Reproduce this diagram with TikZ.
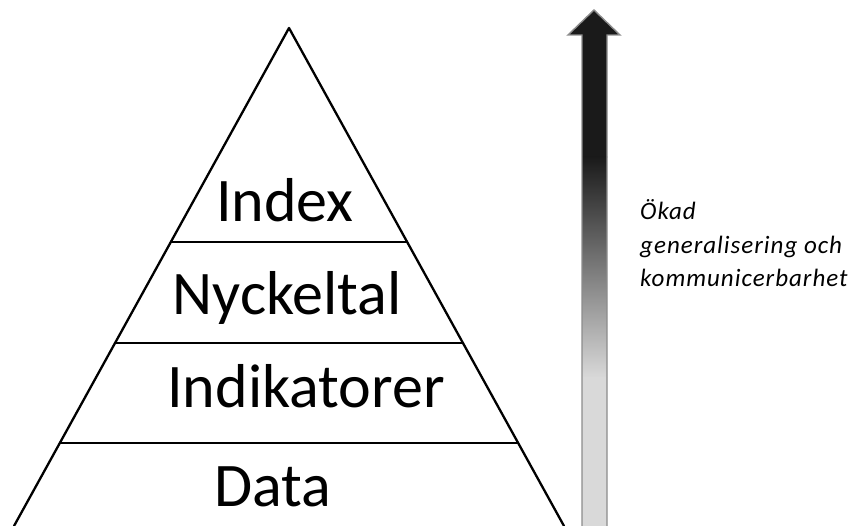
\documentclass[tikz,border=0pt]{standalone}
\usepackage{fontspec}
\setmainfont{Carlito}
\newfontfamily\sidefont[LetterSpace=4]{Carlito}
\begin{document}
\begin{tikzpicture}[x=1pt,y=-1pt,
  edge/.style={line width=2.3pt,line cap=round,line join=round},
  level/.style={anchor=base,font=\fontsize{62}{62}\selectfont,inner sep=0pt},
  side/.style={anchor=base west,align=left,inner sep=0pt,font=\sidefont\itshape\fontsize{25}{33.5}\selectfont}]
\useasboundingbox (0,0) rectangle (863,526);
\definecolor{arrdark}{HTML}{1A1A1A}
\definecolor{arrlight}{HTML}{D9D9D9}
\definecolor{arredge}{HTML}{8C8C8C}
% pyramid
\coordinate (apex) at (289,28);
\coordinate (bl) at (14,526);
\coordinate (br) at (564,526);
\coordinate (l1) at (171,242); \coordinate (r1) at (407,242);
\coordinate (l2) at (115,343); \coordinate (r2) at (463,343);
\coordinate (l3) at (60,443);  \coordinate (r3) at (518,443);
\draw[edge] (bl) -- (apex) -- (br);
\draw[edge] (l1) -- (r1);
\draw[edge] (l2) -- (r2);
\draw[edge] (l3) -- (r3);
\node[level] (index) at (285,222) {Index};
\node[level] (nyck) at (287,315) {Nyckeltal};
\node[level] (indik) at (306,408) {Indikatorer};
\node[level] (data) at (273,507) {Data};
% arrow
\def\arrowpath{(582,530) -- (582,35) -- (568,35) -- (594,10) -- (620,35) -- (607,35) -- (607,530) -- cycle}
\begin{scope}
\clip \arrowpath;
\fill[arrdark] (560,0) rectangle (630,158);
\shade[top color=arrdark,bottom color=arrlight] (560,157) rectangle (630,378);
\fill[arrlight] (560,377) rectangle (630,530);
\end{scope}
\draw[arredge,line width=1.4pt,line join=miter] \arrowpath;
\node[side] (label) at (640,287) {Ökad\\generalisering och\\kommunicerbarhet};
\end{tikzpicture}
\end{document}
